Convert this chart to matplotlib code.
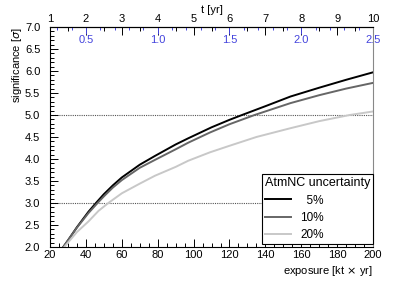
import matplotlib
matplotlib.use("Agg")
import matplotlib.pyplot as plt
from matplotlib.ticker import MultipleLocator, FixedLocator, FormatStrFormatter

plt.rcParams['font.family'] = ['Liberation Sans', 'DejaVu Sans']
plt.rcParams['font.size'] = 7

# exposure [kt x yr] and significance [sigma] for each AtmNC uncertainty
exp_5 = [27.4, 30, 35, 41.4, 45.6, 50, 55, 60, 70, 78.5, 90, 97, 110, 120, 127, 140, 154, 170, 185, 200]
sig_5 = [2.0, 2.15, 2.45, 2.80, 3.0, 3.2, 3.4, 3.58, 3.87, 4.07, 4.33, 4.47, 4.72, 4.89, 5.0, 5.2, 5.42, 5.62, 5.8, 5.97]
exp_10 = [27.4, 30, 35, 41.4, 46.5, 50, 55, 60, 70, 78.5, 90, 97, 109, 120, 134, 154, 170, 185, 200]
sig_10 = [2.0, 2.15, 2.44, 2.77, 3.0, 3.15, 3.35, 3.52, 3.8, 3.98, 4.22, 4.37, 4.6, 4.79, 5.0, 5.27, 5.45, 5.6, 5.73]
exp_20 = [28, 30, 35, 41.4, 47, 52.5, 60, 70, 78.5, 90, 97, 109, 120, 135, 154, 170, 187, 200]
sig_20 = [2.0, 2.1, 2.34, 2.58, 2.82, 3.0, 3.22, 3.44, 3.62, 3.82, 3.96, 4.15, 4.3, 4.5, 4.7, 4.86, 5.0, 5.08]

labels = ['  5%', '10%', '20%']
colors = ['black', '#666666', '#c8c8c8']

# tick values of the two upper scales
t_ticks = [1, 2, 3, 4, 5, 6, 7, 8, 9, 10]
t_minor = [1.5, 2.5, 3.5, 4.5, 5.5, 6.5, 7.5, 8.5, 9.5]
b_ticks = [0.5, 1.0, 1.5, 2.0, 2.5]
b_minor = [0.3, 0.4, 0.6, 0.7, 0.8, 0.9, 1.1, 1.2, 1.3, 1.4, 1.6, 1.7, 1.8, 1.9, 2.1, 2.2, 2.3, 2.4]

fig = plt.figure(figsize=(4.15, 2.81), dpi=100)
ax = fig.add_axes([0.1205, 0.121, 0.7785, 0.783])

for x, y, lab, c in zip([exp_5, exp_10, exp_20], [sig_5, sig_10, sig_20], labels, colors):
    ax.plot(x, y, color=c, lw=1.4, label=lab)

for lvl in [3.0, 5.0]:
    ax.axhline(lvl, color='#555555', lw=0.8, ls=(0, (1, 1)), zorder=0)

ax.set_xlim(20, 200)
ax.set_ylim(2.0, 7.0)
ax.xaxis.set_major_locator(MultipleLocator(20))
ax.xaxis.set_minor_locator(MultipleLocator(5))
ax.yaxis.set_major_locator(MultipleLocator(0.5))
ax.yaxis.set_minor_locator(MultipleLocator(0.1))
ax.yaxis.set_major_formatter(FormatStrFormatter('%.1f'))
ax.tick_params(which='both', direction='in', top=False, right=False, labelsize=8)
ax.tick_params(axis='y', pad=7)
ax.tick_params(axis='x', pad=2)
ax.tick_params(which='major', length=6, width=0.7)
ax.tick_params(which='minor', length=3, width=0.7)
ax.spines['right'].set_color('#888888')

ax.set_xlabel('exposure [kt $\\times$ yr]', fontsize=8, loc='right', labelpad=3)
ax.set_ylabel('significance [$\\sigma$]', fontsize=8, loc='top', labelpad=1)

# top axis: time in years
tax = ax.secondary_xaxis('top', functions=(lambda e: e / 20, lambda t: t * 20))
tax.xaxis.set_major_locator(FixedLocator(t_ticks))
tax.xaxis.set_minor_locator(FixedLocator(t_minor))
tax.tick_params(which='both', direction='in', labelsize=8, pad=2)
tax.tick_params(which='major', length=6, width=0.7)
tax.tick_params(which='minor', length=3, width=0.7)
tax.set_xlabel('t [yr]', fontsize=8, labelpad=1)

# blue secondary scale drawn inside the frame
bax = ax.secondary_xaxis('top', functions=(lambda e: e / 80, lambda b: b * 80))
bax.xaxis.set_major_locator(FixedLocator(b_ticks))
bax.xaxis.set_minor_locator(FixedLocator(b_minor))
bax.xaxis.set_major_formatter(FormatStrFormatter('%.1f'))
bax.tick_params(which='both', direction='in', colors='#4444dd', labelsize=8, pad=-13)
bax.tick_params(which='major', length=5, width=0.7)
bax.tick_params(which='minor', length=2, width=0.7)
bax.spines['top'].set_visible(False)

leg = ax.legend(title='AtmNC uncertainty', loc='lower right', bbox_to_anchor=(1.0, 0.013),
                fontsize=8.5, title_fontsize=9, frameon=True, fancybox=False,
                edgecolor='black', framealpha=1, handlelength=2.2, borderpad=0.25,
                labelspacing=0.45, borderaxespad=0)
leg.get_frame().set_linewidth(0.8)
leg._legend_box.align = 'left'

fig.savefig('out.png', dpi=100)
